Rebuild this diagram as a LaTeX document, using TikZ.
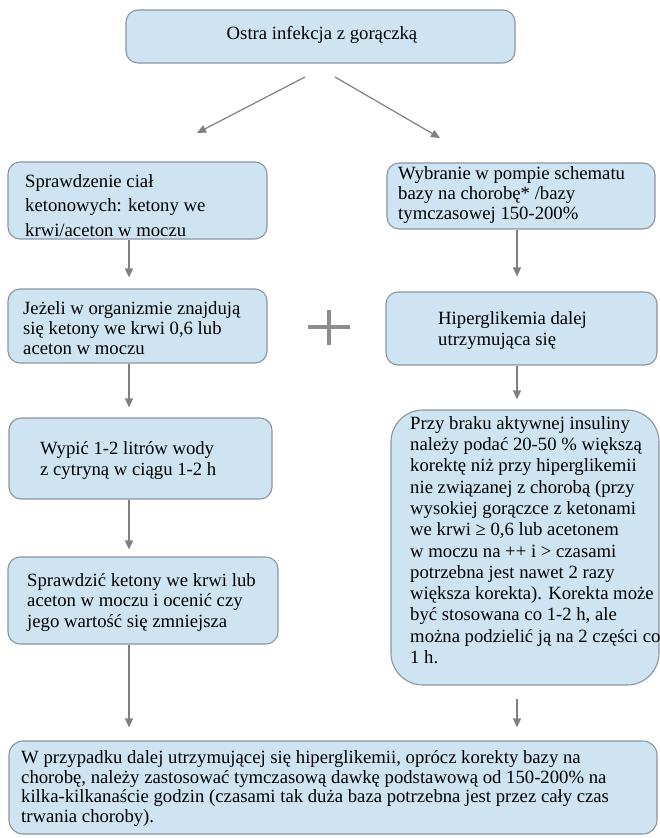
\documentclass[tikz,border=0pt]{standalone}
\usepackage{fontspec}
\setmainfont{Liberation Serif}
\usetikzlibrary{arrows.meta}

\definecolor{boxfill}{RGB}{207,228,243}
\definecolor{boxline}{RGB}{138,148,160}
\definecolor{linkgray}{RGB}{128,128,128}

% fixed first-line height so text blocks can be placed by their first baseline
\newcommand\firstrow{\rule{0pt}{13.5pt}}

\begin{document}
\begin{tikzpicture}[x=1pt,y=-1pt,
  box/.style={draw=boxline, fill=boxfill, line width=1.1pt, rounded corners=12pt, inner sep=0pt},
  txt/.style={anchor=north west, inner sep=0pt, align=left, font=\fontsize{18.7}{#1}\selectfont},
  link/.style={draw=linkgray, line width=1.2pt, -{Triangle[width=8pt,length=9pt]}},
]
\useasboundingbox (0,0) rectangle (660,838);

% ---- boxes ----
\node[box, minimum width=389pt, minimum height=53pt] (start) at (320.5,36.5) {};
\node[box, minimum width=259pt, minimum height=77pt] (ketcheck) at (137.5,200.5) {};
\node[box, minimum width=268pt, minimum height=66pt] (pump) at (521,196) {};
\node[box, minimum width=259pt, minimum height=74pt] (ketpos) at (137.5,326) {};
\node[box, minimum width=271pt, minimum height=73pt] (hyper) at (521.5,328.5) {};
\node[box, minimum width=263pt, minimum height=81pt] (water) at (140.5,458.5) {};
\node[box, rounded corners=32pt, minimum width=268pt, minimum height=275pt] (correct) at (525,547.5) {};
\node[box, minimum width=270pt, minimum height=87pt] (recheck) at (143,600.5) {};
\node[box, rounded corners=14pt, minimum width=648pt, minimum height=93pt] (basal) at (333,787.5) {};

% ---- texts (placed by first baseline minus 13.5pt) ----
\node[anchor=base, inner sep=0pt, font=\fontsize{18.7}{21}\selectfont] (startlbl) at (322,39) {Ostra infekcja z gorączką};

\node[txt=24.5] (ketchecklbl) at (25,173.5) {\firstrow Sprawdzenie ciał\\ketonowych: ketony we\\krwi/aceton w moczu};

\node[txt=20.3] (pumplbl) at (398,165.5) {\firstrow Wybranie w pompie schematu\\bazy na chorobę* /bazy\\tymczasowej 150-200\%};

\node[txt=20] (ketposlbl) at (23,300.5) {\firstrow Jeżeli w organizmie znajdują\\się ketony we krwi 0,6 lub\\aceton w moczu};

\node[txt=21] (hyperlbl) at (438,310.5) {\firstrow Hiperglikemia dalej\\utrzymująca się};

\node[txt=21] (waterlbl) at (40,440.5) {\firstrow Wypić 1-2 litrów wody\\z cytryną w ciągu 1-2 h};

\node[txt=20.5] (rechecklbl) at (27,572.5) {\firstrow Sprawdzić ketony we krwi lub\\aceton w moczu i ocenić czy\\jego wartość się zmniejsza};

\node[txt=21.3] (correctlbl) at (410,415.5) {\firstrow Przy braku aktywnej insuliny\\należy podać 20-50 \% większą\\korektę niż przy hiperglikemii\\nie związanej z chorobą (przy\\wysokiej gorączce z ketonami\\we krwi ≥ 0,6 lub acetonem\\w moczu na ++ i > czasami\\potrzebna jest nawet 2 razy\\większa korekta). Korekta może\\być stosowana co 1-2 h, ale\\można podzielić ją na 2 części co\\1 h.};

\node[txt=19.5] (basallbl) at (21,750) {\firstrow W przypadku dalej utrzymującej się hiperglikemii, oprócz korekty bazy na\\chorobę, należy zastosować tymczasową dawkę podstawową od 150-200\% na\\kilka-kilkanaście godzin (czasami tak duża baza potrzebna jest przez cały czas\\trwania choroby).};

% ---- connectors ----
\coordinate (colL) at (129,0);
\coordinate (colR) at (517,0);
\coordinate (forkL) at (305,77);
\coordinate (forkLend) at (197,133);
\coordinate (forkR) at (335,77);
\coordinate (forkRend) at (440,138);

\draw[link] (forkL) -- (forkLend);
\draw[link] (forkR) -- (forkRend);

\draw[link, shorten >=11pt] (ketcheck.south -| colL) -- (ketpos.north -| colL);
\draw[link, shorten >=10pt] (ketpos.south -| colL) -- (water.north -| colL);
\draw[link, shorten >=7pt] (water.south -| colL) -- (recheck.north -| colL);
\draw[link, shorten >=13pt] (recheck.south -| colL) -- (basal.north -| colL);

\draw[link, shorten >=15pt] (pump.south -| colR) -- (hyper.north -| colR);
\draw[link, shorten >=10pt] (hyper.south -| colR) -- (correct.north -| colR);
\draw[link, shorten <=13pt, shorten >=13pt] (correct.south -| colR) -- (basal.north -| colR);

% ---- plus sign between the two branches ----
\draw[linkgray!90, line width=3.5pt] (308,327) -- (350,327) (329,310) -- (329,345);

\end{tikzpicture}
\end{document}
